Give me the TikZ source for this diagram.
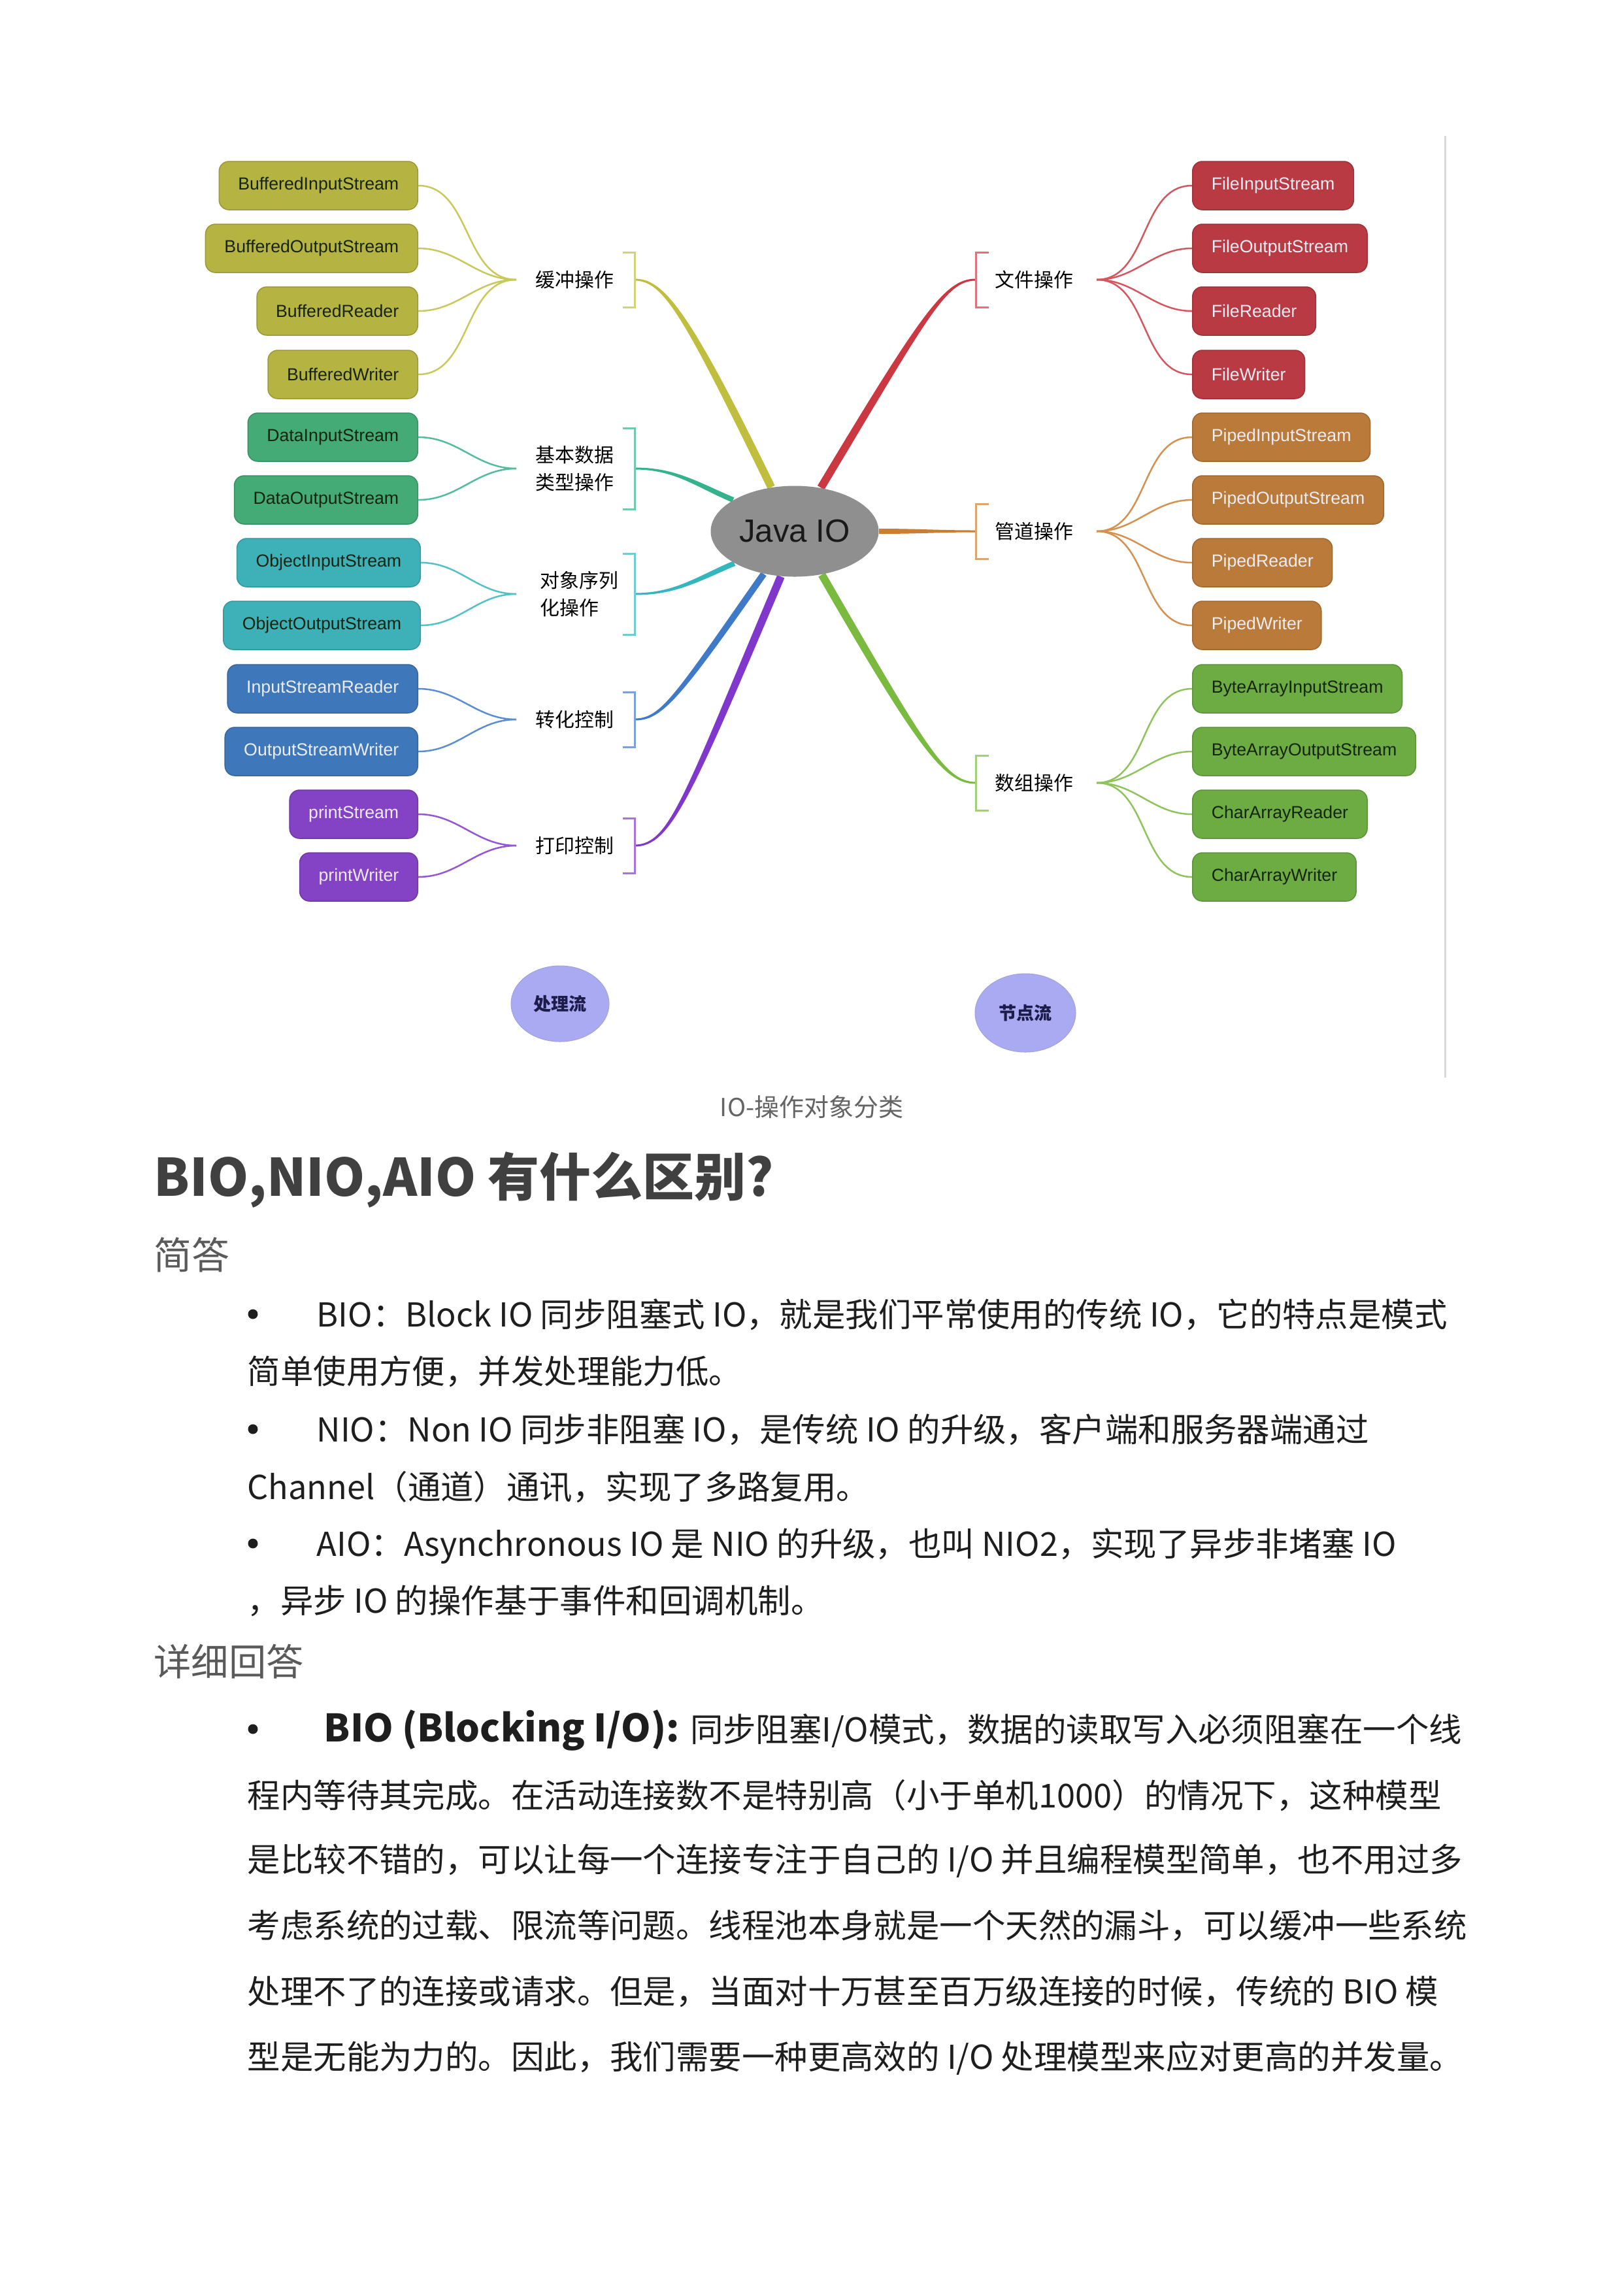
\documentclass[tikz,border=0pt]{standalone}
\usepackage{fontspec}
\setmainfont{Noto Sans CJK SC}
\newfontfamily\mapfont{Liberation Sans}
\usetikzlibrary{shapes.geometric,calc,backgrounds}

% box fills
\definecolor{bufc}{RGB}{181,179,66}
\definecolor{datac}{RGB}{68,170,118}
\definecolor{objc}{RGB}{62,176,184}
\definecolor{convc}{RGB}{63,120,186}
\definecolor{printc}{RGB}{132,66,196}
\definecolor{filec}{RGB}{185,58,66}
\definecolor{pipec}{RGB}{186,122,58}
\definecolor{arrc}{RGB}{108,172,66}
% branch colours
\definecolor{bufl}{RGB}{192,190,62}
\definecolor{datal}{RGB}{52,178,140}
\definecolor{objl}{RGB}{52,182,190}
\definecolor{convl}{RGB}{62,122,200}
\definecolor{printl}{RGB}{128,56,204}
\definecolor{filel}{RGB}{204,56,66}
\definecolor{pipel}{RGB}{204,126,48}
\definecolor{arrl}{RGB}{122,186,62}
% texts
\definecolor{darktxt}{RGB}{22,36,16}
\definecolor{lighttxt}{RGB}{236,236,244}
\definecolor{bodyc}{RGB}{30,30,30}
\definecolor{headc}{RGB}{64,64,64}
\definecolor{subc}{RGB}{90,90,90}
\definecolor{capc}{RGB}{100,100,100}
\definecolor{javac}{RGB}{143,143,143}
\definecolor{flowc}{RGB}{170,170,242}
\definecolor{flowtxt}{RGB}{28,28,74}

\begin{document}
\begin{tikzpicture}[
  box/.style={rectangle, rounded corners=0.15cm, minimum height=0.74cm, inner xsep=0.29cm, inner ysep=0pt, line width=0.015cm, font=\mapfont\fontsize{7.6pt}{9pt}\selectfont},
  bufbox/.style={box, fill=bufc, draw=bufc!85!black, text=darktxt, anchor=east},
  databox/.style={box, fill=datac, draw=datac!85!black, text=darktxt, anchor=east},
  objbox/.style={box, fill=objc, draw=objc!85!black, text=darktxt, anchor=east},
  convbox/.style={box, fill=convc, draw=convc!85!black, text=lighttxt, anchor=east},
  printbox/.style={box, fill=printc, draw=printc!85!black, text=lighttxt, anchor=east},
  filebox/.style={box, fill=filec, draw=filec!85!black, text=lighttxt, anchor=west},
  pipebox/.style={box, fill=pipec, draw=pipec!85!black, text=lighttxt, anchor=west},
  arrbox/.style={box, fill=arrc, draw=arrc!85!black, text=darktxt, anchor=west},
  maplabel/.style={anchor=west, inner sep=0pt, align=left, font=\fontsize{8.5pt}{12pt}\selectfont},
  fan/.style={line width=0.025cm},
  brk/.style={line width=0.03cm},
  javanode/.style={ellipse, fill=javac, minimum width=2.57cm, minimum height=1.39cm, inner sep=0pt, font=\mapfont\fontsize{14pt}{16pt}\selectfont, text=black!90},
  flow/.style={ellipse, fill=flowc, draw=flowc!80!gray, line width=0.01cm, inner sep=0pt, font=\fontsize{7.7pt}{9pt}\selectfont\bfseries, text=flowtxt},
  bodyline/.style={anchor=base west, inner sep=0pt, font=\fontsize{14.35pt}{18pt}\selectfont, text=bodyc},
  dot/.style={circle, fill=bodyc, inner sep=0pt, minimum size=0.15cm}
]
\useasboundingbox (0,0) rectangle (24.84,-35.09);

% Centre
\node[javanode] (java) at (12.16,-8.13) {Java IO};

% Left boxes
\node[bufbox] (bis) at (6.40,-2.84) {BufferedInputStream};
\node[bufbox] (bos) at (6.40,-3.80) {BufferedOutputStream};
\node[bufbox] (brd) at (6.40,-4.76) {BufferedReader};
\node[bufbox] (bwr) at (6.40,-5.73) {BufferedWriter};
\node[databox] (dis) at (6.40,-6.69) {DataInputStream};
\node[databox] (dos) at (6.40,-7.65) {DataOutputStream};
\node[objbox] (ois) at (6.44,-8.61) {ObjectInputStream};
\node[objbox] (oos) at (6.44,-9.57) {ObjectOutputStream};
\node[convbox] (isr) at (6.40,-10.54) {InputStreamReader};
\node[convbox] (osw) at (6.40,-11.50) {OutputStreamWriter};
\node[printbox] (pst) at (6.40,-12.46) {printStream};
\node[printbox] (pwr) at (6.40,-13.42) {printWriter};

% Right boxes
\node[filebox] (fis) at (18.24,-2.84) {FileInputStream};
\node[filebox] (fos) at (18.24,-3.80) {FileOutputStream};
\node[filebox] (frd) at (18.24,-4.76) {FileReader};
\node[filebox] (fwr) at (18.24,-5.73) {FileWriter};
\node[pipebox] (pis) at (18.24,-6.69) {PipedInputStream};
\node[pipebox] (pos) at (18.24,-7.65) {PipedOutputStream};
\node[pipebox] (prd) at (18.24,-8.61) {PipedReader};
\node[pipebox] (pwt) at (18.24,-9.57) {PipedWriter};
\node[arrbox] (bais) at (18.24,-10.54) {ByteArrayInputStream};
\node[arrbox] (baos) at (18.24,-11.50) {ByteArrayOutputStream};
\node[arrbox] (card) at (18.24,-12.46) {CharArrayReader};
\node[arrbox] (cawr) at (18.24,-13.42) {CharArrayWriter};

% Group labels
\node[maplabel] (buflab) at (8.19,-4.28) {缓冲操作};
\node[maplabel] (datalab) at (8.19,-7.17) {基本数据\\类型操作};
\node[maplabel] (objlab) at (8.26,-9.09) {对象序列\\化操作};
\node[maplabel] (convlab) at (8.19,-11.01) {转化控制};
\node[maplabel] (printlab) at (8.19,-12.94) {打印控制};
\node[maplabel] (filelab) at (15.22,-4.28) {文件操作};
\node[maplabel] (pipelab) at (15.22,-8.13) {管道操作};
\node[maplabel] (arrlab) at (15.22,-11.98) {数组操作};

% Fork points and bracket points
\coordinate (buffork) at (7.90,-4.28);
\coordinate (datafork) at (7.90,-7.17);
\coordinate (objfork) at (7.90,-9.09);
\coordinate (convfork) at (7.90,-11.01);
\coordinate (printfork) at (7.90,-12.94);
\coordinate (filefork) at (16.78,-4.28);
\coordinate (pipefork) at (16.78,-8.13);
\coordinate (arrfork) at (16.78,-11.98);
\coordinate (bufk) at (9.71,-4.28);
\coordinate (datak) at (9.71,-7.17);
\coordinate (objk) at (9.71,-9.09);
\coordinate (convk) at (9.71,-11.01);
\coordinate (printk) at (9.71,-12.94);
\coordinate (filek) at (14.93,-4.28);
\coordinate (pipek) at (14.93,-8.13);
\coordinate (arrk) at (14.93,-11.98);

% Brackets
\draw[brk, bufl!70!white] ($(bufk)+(-0.18,0.42)$) -- ($(bufk)+(0,0.42)$) -- ($(bufk)+(0,-0.42)$) -- ($(bufk)+(-0.18,-0.42)$);
\draw[brk, datal!70!white] ($(datak)+(-0.18,0.62)$) -- ($(datak)+(0,0.62)$) -- ($(datak)+(0,-0.62)$) -- ($(datak)+(-0.18,-0.62)$);
\draw[brk, objl!70!white] ($(objk)+(-0.18,0.62)$) -- ($(objk)+(0,0.62)$) -- ($(objk)+(0,-0.62)$) -- ($(objk)+(-0.18,-0.62)$);
\draw[brk, convl!70!white] ($(convk)+(-0.18,0.42)$) -- ($(convk)+(0,0.42)$) -- ($(convk)+(0,-0.42)$) -- ($(convk)+(-0.18,-0.42)$);
\draw[brk, printl!70!white] ($(printk)+(-0.18,0.42)$) -- ($(printk)+(0,0.42)$) -- ($(printk)+(0,-0.42)$) -- ($(printk)+(-0.18,-0.42)$);
\draw[brk, filel!70!white] ($(filek)+(0.20,0.42)$) -- ($(filek)+(0,0.42)$) -- ($(filek)+(0,-0.42)$) -- ($(filek)+(0.20,-0.42)$);
\draw[brk, pipel!70!white] ($(pipek)+(0.20,0.42)$) -- ($(pipek)+(0,0.42)$) -- ($(pipek)+(0,-0.42)$) -- ($(pipek)+(0.20,-0.42)$);
\draw[brk, arrl!70!white] ($(arrk)+(0.20,0.42)$) -- ($(arrk)+(0,0.42)$) -- ($(arrk)+(0,-0.42)$) -- ($(arrk)+(0.20,-0.42)$);

% Fans: boxes to fork points
\draw[fan, bufl!85!white] (bis.east) to[out=0,in=180] (buffork);
\draw[fan, bufl!85!white] (bos.east) to[out=0,in=180] (buffork);
\draw[fan, bufl!85!white] (brd.east) to[out=0,in=180] (buffork);
\draw[fan, bufl!85!white] (bwr.east) to[out=0,in=180] (buffork);
\draw[fan, datal!85!white] (dis.east) to[out=0,in=180] (datafork);
\draw[fan, datal!85!white] (dos.east) to[out=0,in=180] (datafork);
\draw[fan, objl!85!white] (ois.east) to[out=0,in=180] (objfork);
\draw[fan, objl!85!white] (oos.east) to[out=0,in=180] (objfork);
\draw[fan, convl!85!white] (isr.east) to[out=0,in=180] (convfork);
\draw[fan, convl!85!white] (osw.east) to[out=0,in=180] (convfork);
\draw[fan, printl!85!white] (pst.east) to[out=0,in=180] (printfork);
\draw[fan, printl!85!white] (pwr.east) to[out=0,in=180] (printfork);
\draw[fan, filel!85!white] (fis.west) to[out=180,in=0] (filefork);
\draw[fan, filel!85!white] (fos.west) to[out=180,in=0] (filefork);
\draw[fan, filel!85!white] (frd.west) to[out=180,in=0] (filefork);
\draw[fan, filel!85!white] (fwr.west) to[out=180,in=0] (filefork);
\draw[fan, pipel!85!white] (pis.west) to[out=180,in=0] (pipefork);
\draw[fan, pipel!85!white] (pos.west) to[out=180,in=0] (pipefork);
\draw[fan, pipel!85!white] (prd.west) to[out=180,in=0] (pipefork);
\draw[fan, pipel!85!white] (pwt.west) to[out=180,in=0] (pipefork);
\draw[fan, arrl!85!white] (bais.west) to[out=180,in=0] (arrfork);
\draw[fan, arrl!85!white] (baos.west) to[out=180,in=0] (arrfork);
\draw[fan, arrl!85!white] (card.west) to[out=180,in=0] (arrfork);
\draw[fan, arrl!85!white] (cawr.west) to[out=180,in=0] (arrfork);

% Tapered branches from brackets to the centre (behind the ellipse)
\begin{scope}[on background layer]
\fill[white] (0,0) rectangle (24.84,-35.09);
\fill[bufl] ($(bufk)+(90:0.015)$) to[out=0,in=116,out looseness=0.3,in looseness=2] ($(java.118)+(26:0.06)$) -- ($(java.118)+(206:0.06)$) to[out=116,in=0,out looseness=2,in looseness=0.3] ($(bufk)+(-90:0.015)$) -- cycle;
\fill[datal] ($(datak)+(90:0.015)$) to[out=0,in=157] ($(java.153)+(67:0.04)$) -- ($(java.153)+(247:0.04)$) to[out=157,in=0] ($(datak)+(-90:0.015)$) -- cycle;
\fill[objl] ($(objk)+(90:0.015)$) to[out=0,in=203] ($(java.208)+(113:0.04)$) -- ($(java.208)+(293:0.04)$) to[out=203,in=0] ($(objk)+(-90:0.015)$) -- cycle;
\fill[convl] ($(convk)+(90:0.015)$) to[out=0,in=235,out looseness=0.35,in looseness=2] ($(java.234)+(145:0.05)$) -- ($(java.234)+(325:0.05)$) to[out=235,in=0,out looseness=2,in looseness=0.35] ($(convk)+(-90:0.015)$) -- cycle;
\fill[printl] ($(printk)+(90:0.015)$) to[out=0,in=247,out looseness=0.3,in looseness=2] ($(java.253)+(157:0.06)$) -- ($(java.253)+(337:0.06)$) to[out=247,in=0,out looseness=2,in looseness=0.3] ($(printk)+(-90:0.015)$) -- cycle;
\fill[filel] ($(filek)+(270:0.015)$) to[out=180,in=59,out looseness=0.3,in looseness=2] ($(java.59)+(-31:0.06)$) -- ($(java.59)+(149:0.06)$) to[out=59,in=180,out looseness=2,in looseness=0.3] ($(filek)+(90:0.015)$) -- cycle;
\fill[pipel] ($(pipek)+(270:0.015)$) to[out=180,in=0] ($(java.east)+(-90:0.04)$) -- ($(java.east)+(90:0.04)$) to[out=0,in=180] ($(pipek)+(90:0.015)$) -- cycle;
\fill[arrl] ($(arrk)+(270:0.015)$) to[out=180,in=300,out looseness=0.3,in looseness=2] ($(java.302)+(210:0.06)$) -- ($(java.302)+(30:0.06)$) to[out=300,in=180,out looseness=2,in looseness=0.3] ($(arrk)+(90:0.015)$) -- cycle;
\end{scope}

% Stream kinds
\node[flow, minimum width=1.50cm, minimum height=1.16cm] (proc) at (8.57,-15.36) {处理流};
\node[flow, minimum width=1.54cm, minimum height=1.20cm] (nodeflow) at (15.69,-15.50) {节点流};

% Frame line at the right of the figure
\draw[black!15, line width=0.03cm] (22.11,-2.08) -- (22.11,-16.49);

% Caption
\node[anchor=base, inner sep=0pt, font=\fontsize{10.8pt}{13pt}\selectfont, text=capc] (cap) at (12.42,-17.08) {IO-操作对象分类};

% Heading and answers
\node[anchor=base west, inner sep=0pt, font=\fontsize{22.5pt}{26pt}\selectfont\bfseries, text=headc] (title) at (2.35,-18.30) {BIO,NIO,AIO 有什么区别?};
\node[anchor=base west, inner sep=0pt, font=\fontsize{16.5pt}{20pt}\selectfont, text=subc] (short) at (2.35,-19.42) {简答};

\node[dot] (sb1) at (3.87,-20.11) {};
\node[bodyline] (s1) at (4.84,-20.30) {BIO：Block IO 同步阻塞式 IO，就是我们平常使用的传统 IO，它的特点是模式};
\node[bodyline] (s2) at (3.78,-21.17) {简单使用方便，并发处理能力低。};
\node[dot] (sb2) at (3.87,-21.87) {};
\node[bodyline] (s3) at (4.84,-22.06) {NIO：Non IO 同步非阻塞 IO，是传统 IO 的升级，客户端和服务器端通过};
\node[bodyline] (s4) at (3.78,-22.94) {Channel（通道）通讯，实现了多路复用。};
\node[dot] (sb3) at (3.87,-23.62) {};
\node[bodyline] (s5) at (4.84,-23.81) {AIO：Asynchronous IO 是 NIO 的升级，也叫 NIO2，实现了异步非堵塞 IO};
\node[bodyline] (s6) at (3.78,-24.68) {，异步 IO 的操作基于事件和回调机制。};

\node[anchor=base west, inner sep=0pt, font=\fontsize{16.3pt}{20pt}\selectfont, text=subc] (detail) at (2.35,-25.64) {详细回答};

\node[dot] (db1) at (3.87,-26.46) {};
\node[bodyline, font=\fontsize{16.5pt}{20pt}\selectfont\bfseries] (d1a) at (4.95,-26.65) {BIO (Blocking I/O):};
\node[bodyline] (d1b) at ($(d1a.base east)+(0.15,0)$) {同步阻塞I/O模式，数据的读取写入必须阻塞在一个线};
\node[bodyline] (d2) at (3.78,-27.66) {程内等待其完成。在活动连接数不是特别高（小于单机1000）的情况下，这种模型};
\node[bodyline] (d3) at (3.78,-28.64) {是比较不错的，可以让每一个连接专注于自己的 I/O 并且编程模型简单，也不用过多};
\node[bodyline] (d4) at (3.78,-29.65) {考虑系统的过载、限流等问题。线程池本身就是一个天然的漏斗，可以缓冲一些系统};
\node[bodyline] (d5) at (3.78,-30.66) {处理不了的连接或请求。但是，当面对十万甚至百万级连接的时候，传统的 BIO 模};
\node[bodyline] (d6) at (3.78,-31.66) {型是无能为力的。因此，我们需要一种更高效的 I/O 处理模型来应对更高的并发量。};

\end{tikzpicture}
\end{document}
